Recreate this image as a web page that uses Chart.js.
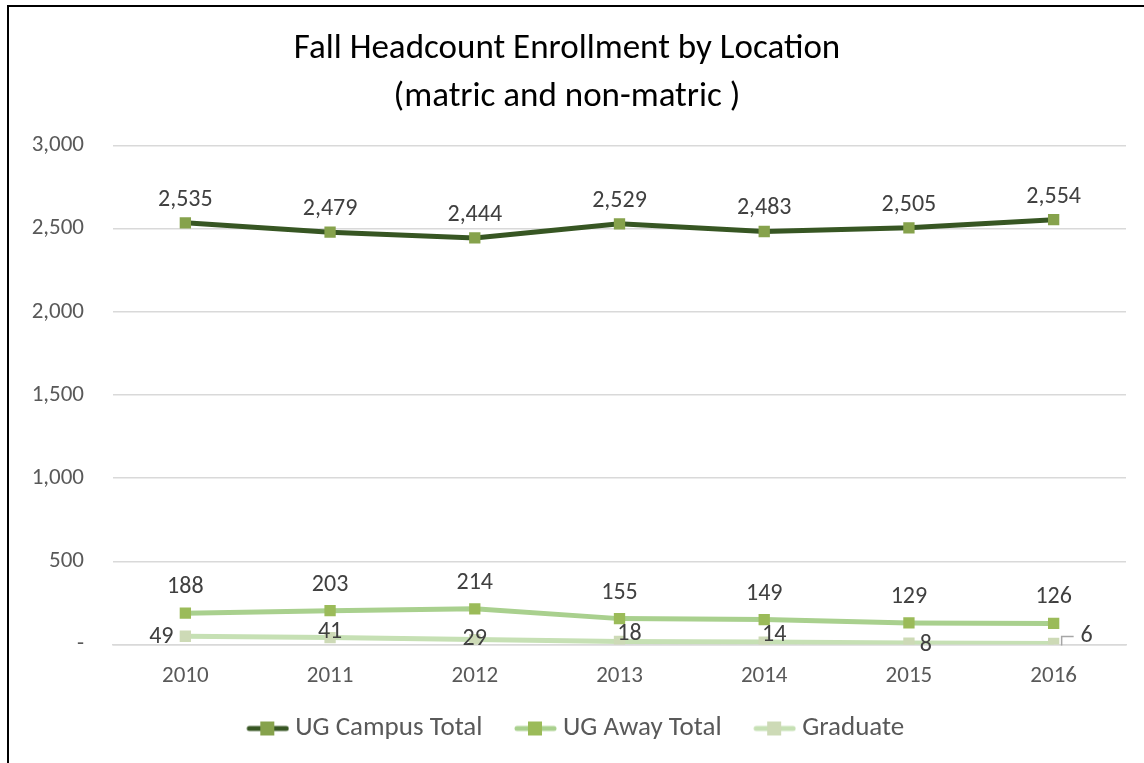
<!DOCTYPE html>
<html>
<head>
<meta charset="utf-8">
<script src="https://cdn.jsdelivr.net/npm/chart.js@4.4.1/dist/chart.umd.min.js"></script>
<style>
  body { margin: 0; background: #fff; overflow: hidden; }
  #wrap { position: relative; width: 1144px; height: 763px; }
  #frame { position: absolute; left: 7px; top: 5px; width: 1200px; height: 800px; border: 2px solid #000; pointer-events: none; }
</style>
</head>
<body>
<div id="wrap">
  <canvas id="myChart" width="1144" height="763"></canvas>
  <div id="frame"></div>
</div>
<script>
const years = ['2010', '2011', '2012', '2013', '2014', '2015', '2016'];
const campusTotal = [2535, 2479, 2444, 2529, 2483, 2505, 2554];
const awayTotal = [188, 203, 214, 155, 149, 129, 126];
const graduate = [49, 41, 29, 18, 14, 8, 6];
const yTicks = [0, 500, 1000, 1500, 2000, 2500, 3000];

const fontFam = "Carlito, Lato, 'Open Sans', sans-serif";
const ctx = document.getElementById("myChart");

const legendBoxW = 52;

// line + square swatch for the legend, drawn at the right end of a wider canvas
function swatch(lineColor, boxColor) {
    const c = document.createElement('canvas');
    c.width = legendBoxW + 15; c.height = 16;
    const g = c.getContext('2d');
    const r = c.width;
    g.strokeStyle = lineColor;
    g.lineWidth = 5;
    g.lineCap = 'round';
    g.beginPath(); g.moveTo(r - 40, 8); g.lineTo(r - 3, 8); g.stroke();
    g.fillStyle = boxColor;
    g.fillRect(r - 29, 1, 14, 14);
    return c;
}

// label offsets per series (style only)
const gradDx = [-24, 0, 0, 10, 10, 17, 33];
const gradDy = [1, -6, -1, -7, -7, 2, -7];

const labelPlugin = {
    id: 'pointLabels',
    afterDatasetsDraw(chart) {
        const c = chart.ctx;
        c.save();
        c.font = "24px " + fontFam;
        c.fillStyle = '#404040';
        c.textAlign = 'center';
        c.textBaseline = 'middle';
        chart.data.datasets.forEach((ds, di) => {
            const meta = chart.getDatasetMeta(di);
            meta.data.forEach((pt, i) => {
                const txt = ds.data[i].toLocaleString('en-US');
                let x = pt.x, y = pt.y;
                if (di === 0) y -= 23;
                else if (di === 1) y -= 26;
                else { x += gradDx[i]; y += gradDy[i]; }
                c.fillText(txt, x, y);
            });
        });
        // leader line for last graduate label
        const last = chart.getDatasetMeta(2).data[6];
        c.strokeStyle = '#a6a6a6';
        c.lineWidth = 1.5;
        c.beginPath();
        c.moveTo(last.x + 8, last.y + 2);
        c.lineTo(last.x + 8, last.y - 7);
        c.lineTo(last.x + 20, last.y - 7);
        c.stroke();
        c.restore();
    }
};

const config = {
    type: 'line',
    data: {
        labels: years,
        datasets: [
            {
                label: 'UG Campus Total',
                data: campusTotal,
                borderColor: '#375623',
                backgroundColor: '#86a24c',
                borderWidth: 5,
                pointStyle: 'rect',
                pointRadius: 8,
                pointBorderWidth: 0,
                pointBackgroundColor: '#86a24c',
                legendImg: swatch('#375623', '#86a24c')
            },
            {
                label: 'UG Away Total',
                data: awayTotal,
                borderColor: '#a9d08e',
                backgroundColor: '#9bbb59',
                borderWidth: 5,
                pointStyle: 'rect',
                pointRadius: 8,
                pointBorderWidth: 0,
                pointBackgroundColor: '#9bbb59',
                legendImg: swatch('#a9d08e', '#9bbb59')
            },
            {
                label: 'Graduate',
                data: graduate,
                borderColor: '#c6e0b4',
                backgroundColor: '#cddab6',
                borderWidth: 5,
                pointStyle: 'rect',
                pointRadius: 8,
                pointBorderWidth: 0,
                pointBackgroundColor: '#cddab6',
                legendImg: swatch('#c6e0b4', '#cddab6')
            }
        ]
    },
    options: {
        responsive: false,
        animation: false,
        layout: { padding: { left: 8, right: 18, top: 0, bottom: 11 } },
        plugins: {
            title: {
                display: true,
                text: ['Fall Headcount Enrollment by Location', '(matric and non-matric )'],
                color: '#000',
                font: { family: fontFam, size: 35, weight: 'normal', lineHeight: 1.35 },
                padding: { top: 26, bottom: 25 }
            },
            legend: {
                position: 'bottom',
                labels: {
                    usePointStyle: true,
                    pointStyleWidth: legendBoxW,
                    color: '#595959',
                    font: { family: fontFam, size: 27 },
                    padding: 15,
                    generateLabels(chart) {
                        return chart.data.datasets.map((ds, i) => ({
                            text: ds.label,
                            pointStyle: ds.legendImg,
                            fontColor: '#595959',
                            datasetIndex: i,
                            lineWidth: 0,
                            hidden: false
                        }));
                    }
                }
            },
            tooltip: { enabled: false }
        },
        scales: {
            x: {
                offset: true,
                grid: { display: false },
                border: { color: '#d9d9d9', width: 1.5 },
                ticks: { color: '#595959', font: { family: fontFam, size: 23 }, padding: 10 }
            },
            y: {
                min: 0,
                max: 3000,
                afterBuildTicks(scale) {
                    scale.ticks = yTicks.map(v => ({ value: v }));
                },
                afterFit(scale) { scale.width = 105; },
                grid: { color: '#d9d9d9', lineWidth: 1.5, drawTicks: false },
                border: { display: false },
                ticks: {
                    color: '#595959',
                    font: { family: fontFam, size: 23 },
                    padding: 29,
                    callback: v => v === 0 ? '-' : v.toLocaleString('en-US')
                }
            }
        }
    },
    plugins: [labelPlugin]
};

const chart = new Chart(ctx, config);
</script>
</body>
</html>
